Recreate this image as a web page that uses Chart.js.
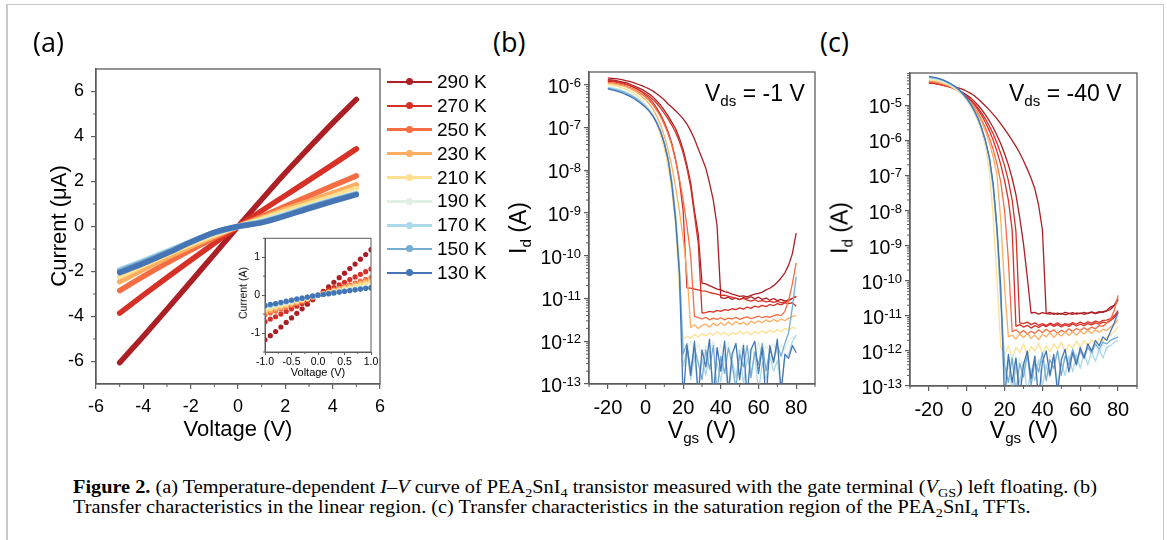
<!DOCTYPE html>
<html>
<head>
<meta charset="utf-8">
<title>Figure 2</title>
<script src="https://cdn.jsdelivr.net/npm/chart.js@4.4.1/dist/chart.umd.min.js"></script>
<style>
  html, body { margin: 0; padding: 0; background: #fff; }
  body { position: relative; width: 1167px; height: 540px; overflow: hidden; font-family: 'Liberation Sans', Arial, sans-serif; color: #000; }
  canvas { position: absolute; }
  .txt { position: absolute; white-space: nowrap; line-height: 1; }
  .rot { transform: translate(-50%, -50%) rotate(-90deg); }
  .ctr { transform: translateX(-50%); }
  .sub { font-size: 0.66em; position: relative; top: 0.33em; }
  .panel { font-family: 'Open Sans', Lato, sans-serif; font-size: 27px; }
  .caption { font-family: 'Liberation Serif', 'Times New Roman', serif; font-size: 18px; transform-origin: 0 0; }
  .caption .cs { font-size: 0.7em; position: relative; top: 0.28em; }
  .line { position: absolute; background: #c9c9c9; }
  #legendA { position: absolute; left: 387px; top: 70px; }
  .item { height: 23.9px; display: flex; align-items: center; font-size: 19px; }
  .swatch { position: relative; width: 45px; height: 2.5px; }
  .swatch i { position: absolute; left: 19px; top: -2.5px; width: 7px; height: 7px; border-radius: 50%; }
</style>
</head>
<body>
<div class="line" style="left:7px;top:4px;width:1157px;height:1px"></div>
<div class="line" style="left:6px;top:4px;width:2px;height:536px"></div>
<div class="line" style="left:1163px;top:4px;width:1px;height:536px"></div>

<canvas id="chartA"></canvas>
<canvas id="chartInset"></canvas>
<canvas id="chartB"></canvas>
<canvas id="chartC"></canvas>

<div class="txt panel" style="left:33px;top:28px">(a)</div>
<div class="txt panel" style="left:493px;top:28px">(b)</div>
<div class="txt panel" style="left:820px;top:28px">(c)</div>

<div class="txt ctr" style="left:238px;top:418px;font-size:22px">Voltage (V)</div>
<div class="txt rot" style="left:59px;top:226px;font-size:22px">Current (μA)</div>
<div class="txt ctr" style="left:318px;top:367px;font-size:11px">Voltage (V)</div>
<div class="txt rot" style="left:243px;top:293px;font-size:10.5px">Current (A)</div>
<div id="legendA"></div>

<div class="txt ctr" style="left:702px;top:419px;font-size:23px">V<span class="sub">gs</span> (V)</div>
<div class="txt rot" style="left:518px;top:228px;font-size:23px">I<span class="sub">d</span> (A)</div>
<div class="txt" style="left:705px;top:82px;font-size:23px">V<span class="sub">ds</span> = -1 V</div>

<div class="txt ctr" style="left:1024px;top:419px;font-size:23px">V<span class="sub">gs</span> (V)</div>
<div class="txt rot" style="left:840px;top:228px;font-size:23px">I<span class="sub">d</span> (A)</div>
<div class="txt" style="left:1009px;top:82px;font-size:23px">V<span class="sub">ds</span> = -40 V</div>

<div id="cap1" class="txt caption" style="left:73px;top:478px"><b>Figure 2.</b> (a) Temperature-dependent <i>I</i>–<i>V</i> curve of PEA<span class="cs">2</span>SnI<span class="cs">4</span> transistor measured with the gate terminal (<i>V</i><span class="cs">GS</span>) left floating. (b)</div>
<div id="cap2" class="txt caption" style="left:73px;top:498px">Transfer characteristics in the linear region. (c) Transfer characteristics in the saturation region of the PEA<span class="cs">2</span>SnI<span class="cs">4</span> TFTs.</div>

<script>
// ---- shared series info
const temps = ['290 K', '270 K', '250 K', '230 K', '210 K', '190 K', '170 K', '150 K', '130 K'];
const tempColors = ['#ac1f24', '#d73027', '#f46d43', '#fdae61', '#fee090', '#e2efe4', '#abd9e9', '#74add1', '#4575b4'];

// ---- panel (a): I-V curves, current in uA
const voltA = [-5, -4, -3, -2, -1, 0, 1, 2, 3, 4, 5];
const ivA290 = [-6.05, -4.88, -3.68, -2.46, -1.23, 0, 1.2, 2.38, 3.5, 4.6, 5.65];
const ivA270 = [-3.85, -3.05, -2.27, -1.5, -0.74, 0, 0.7, 1.38, 2.06, 2.75, 3.45];
const ivA250 = [-2.85, -2.22, -1.62, -1.05, -0.5, 0, 0.44, 0.9, 1.36, 1.81, 2.25];
const ivA230 = [-2.45, -1.9, -1.38, -0.89, -0.42, 0, 0.37, 0.76, 1.12, 1.49, 1.85];
const ivA210 = [-2.22, -1.72, -1.24, -0.79, -0.37, 0, 0.32, 0.67, 1.0, 1.33, 1.68];
const ivA190 = [-1.95, -1.55, -1.12, -0.7, -0.3, 0, 0.24, 0.55, 0.88, 1.2, 1.5];
const ivA170 = [-1.92, -1.52, -1.1, -0.68, -0.28, 0, 0.21, 0.52, 0.86, 1.17, 1.45];
const ivA150 = [-1.98, -1.58, -1.15, -0.69, -0.27, 0, 0.19, 0.49, 0.84, 1.15, 1.44];
const ivA130 = [-2.05, -1.64, -1.19, -0.7, -0.26, 0, 0.17, 0.47, 0.8, 1.12, 1.42];
const ivA = [ivA290, ivA270, ivA250, ivA230, ivA210, ivA190, ivA170, ivA150, ivA130];
const ticksA_x = [-6, -4, -2, 0, 2, 4, 6];
const ticksA_y = [-6, -4, -2, 0, 2, 4, 6];

// ---- inset of (a): low-bias region
const voltIn = [-1.0, -0.9, -0.8, -0.7, -0.6, -0.5, -0.4, -0.3, -0.2, -0.1, 0, 0.1, 0.2, 0.3, 0.4, 0.5, 0.6, 0.7, 0.8, 0.9, 1.0];
const ivIn290 = [-1.18, -1.07, -0.96, -0.84, -0.72, -0.6, -0.48, -0.36, -0.24, -0.12, 0, 0.1, 0.22, 0.34, 0.46, 0.58, 0.7, 0.82, 0.95, 1.07, 1.2];
const ivIn270 = [-0.7, -0.63, -0.57, -0.5, -0.43, -0.36, -0.29, -0.22, -0.15, -0.08, 0, 0.07, 0.14, 0.2, 0.27, 0.34, 0.41, 0.48, 0.55, 0.62, 0.69];
const ivIn250 = [-0.52, -0.47, -0.42, -0.37, -0.32, -0.27, -0.22, -0.17, -0.11, -0.06, 0, 0.05, 0.09, 0.14, 0.18, 0.23, 0.27, 0.32, 0.37, 0.42, 0.46];
const ivIn230 = [-0.44, -0.4, -0.36, -0.32, -0.28, -0.23, -0.19, -0.14, -0.1, -0.05, 0, 0.04, 0.08, 0.12, 0.16, 0.2, 0.23, 0.27, 0.31, 0.35, 0.39];
const ivIn210 = [-0.38, -0.35, -0.31, -0.28, -0.24, -0.2, -0.16, -0.12, -0.08, -0.04, 0, 0.03, 0.07, 0.1, 0.13, 0.17, 0.2, 0.23, 0.27, 0.3, 0.33];
const ivIn190 = [-0.32, -0.29, -0.26, -0.23, -0.2, -0.17, -0.13, -0.1, -0.07, -0.03, 0, 0.03, 0.05, 0.08, 0.1, 0.13, 0.15, 0.18, 0.2, 0.22, 0.24];
const ivIn170 = [-0.29, -0.27, -0.24, -0.21, -0.18, -0.15, -0.12, -0.09, -0.06, -0.03, 0, 0.02, 0.04, 0.07, 0.09, 0.11, 0.13, 0.15, 0.17, 0.19, 0.21];
const ivIn150 = [-0.28, -0.25, -0.23, -0.2, -0.17, -0.14, -0.11, -0.08, -0.05, -0.03, 0, 0.02, 0.04, 0.06, 0.08, 0.1, 0.12, 0.14, 0.16, 0.18, 0.2];
const ivIn130 = [-0.27, -0.24, -0.22, -0.19, -0.16, -0.13, -0.1, -0.08, -0.05, -0.02, 0, 0.02, 0.04, 0.06, 0.08, 0.1, 0.12, 0.14, 0.16, 0.18, 0.19];
const ivIn = [ivIn290, ivIn270, ivIn250, ivIn230, ivIn210, ivIn190, ivIn170, ivIn150, ivIn130];
const ticksIn_x = [-1, -0.5, 0, 0.5, 1];
const ticksIn_y = [-1, 0, 1];

// ---- panels (b) and (c): transfer curves, log10 of Id (A) at each Vgs
const vgs = [-20, -18, -16, -14, -12, -10, -8, -6, -4, -2,
  0, 2, 4, 6, 8, 10, 12, 14, 16, 18,
  20, 22, 24, 26, 28, 30, 32, 34, 36, 38,
  40, 42, 44, 46, 48, 50, 52, 54, 56, 58,
  60, 62, 64, 66, 68, 70, 72, 74, 76, 78,
  80];

// (b) Vds = -1 V
const logB290f = [-5.84, -5.85, -5.86, -5.87, -5.89, -5.91, -5.93, -5.96, -5.99, -6.02,
  -6.06, -6.1, -6.15, -6.21, -6.28, -6.36, -6.45, -6.53, -6.61, -6.7,
  -6.8, -6.92, -7.08, -7.27, -7.5, -7.72, -7.95, -8.3, -8.7, -9.3,
  -10.98, -11.0, -10.97, -11.02, -10.99, -11.03, -10.98, -11.0, -10.96, -11.01,
  -10.97, -11.02, -10.99, -11.04, -11.0, -11.05, -11.02, -11.06, -11.03, -11.0,
  -10.95];
const logB290r = [-5.88, -5.89, -5.9, -5.92, -5.94, -5.96, -5.99, -6.03, -6.07, -6.11,
  -6.16, -6.22, -6.29, -6.38, -6.48, -6.6, -6.73, -6.88, -7.03, -7.25,
  -7.52, -7.88, -8.3, -8.95, -9.5, -10.64, -10.66, -10.7, -10.74, -10.78,
  -10.8, -10.84, -10.86, -10.9, -10.92, -10.95, -10.94, -10.96, -10.93, -10.9,
  -10.88, -10.85, -10.8, -10.76, -10.7, -10.62, -10.52, -10.4, -10.22, -9.95,
  -9.47];
const logB270f = [-5.92, -5.93, -5.94, -5.96, -5.98, -6.0, -6.03, -6.07, -6.11, -6.16,
  -6.21, -6.27, -6.35, -6.44, -6.55, -6.67, -6.8, -6.95, -7.12, -7.33,
  -7.6, -7.95, -8.4, -9.05, -9.7, -11.34, -11.33, -11.3, -11.32, -11.28,
  -11.3, -11.26, -11.28, -11.24, -11.26, -11.22, -11.25, -11.2, -11.23, -11.18,
  -11.2, -11.16, -11.19, -11.14, -11.17, -11.12, -11.15, -11.1, -11.12, -11.1,
  -11.18];
const logB270r = [-5.9, -5.91, -5.92, -5.94, -5.96, -5.99, -6.02, -6.06, -6.11, -6.17,
  -6.24, -6.32, -6.42, -6.55, -6.7, -6.88, -7.1, -7.38, -7.75, -8.25,
  -8.95, -10.75, -10.76, -10.78, -10.8, -10.82, -10.83, -10.86, -10.88, -10.9,
  -10.93, -10.92, -10.95, -10.97, -11.0, -11.02, -11.0, -11.04, -11.06, -11.03,
  -11.07, -11.05, -11.08, -11.06, -11.09, -11.07, -11.1, -11.08, -11.05, -11.0,
  -10.95];
const logB250 = [-5.95, -5.96, -5.97, -5.99, -6.01, -6.04, -6.07, -6.11, -6.16, -6.22,
  -6.29, -6.37, -6.47, -6.6, -6.75, -6.93, -7.15, -7.42, -7.78, -8.2,
  -8.7, -9.3, -10.0, -11.42, -11.45, -11.48, -11.44, -11.5, -11.46, -11.49,
  -11.45, -11.5, -11.46, -11.48, -11.44, -11.49, -11.46, -11.43, -11.47, -11.44,
  -11.41, -11.45, -11.42, -11.44, -11.4, -11.38, -11.4, -11.3, -11.05, -10.65,
  -10.17];
const logB230 = [-5.97, -5.98, -5.99, -6.01, -6.03, -6.06, -6.1, -6.14, -6.2, -6.27,
  -6.35, -6.45, -6.58, -6.74, -6.94, -7.2, -7.52, -7.92, -8.4, -8.95,
  -9.6, -10.4, -11.68, -11.62, -11.7, -11.63, -11.6, -11.67, -11.58, -11.64,
  -11.57, -11.63, -11.55, -11.62, -11.54, -11.6, -11.56, -11.62, -11.53, -11.58,
  -11.52, -11.57, -11.5, -11.55, -11.49, -11.54, -11.48, -11.52, -11.46, -11.42,
  -11.4];
const logB210 = [-6.0, -6.01, -6.03, -6.05, -6.08, -6.11, -6.15, -6.2, -6.27, -6.35,
  -6.45, -6.57, -6.72, -6.92, -7.18, -7.5, -7.92, -8.5, -9.3, -10.8,
  -11.95, -11.88, -11.93, -11.84, -11.9, -11.82, -11.88, -11.8, -11.86, -11.78,
  -11.85, -11.79, -11.87, -11.8, -11.84, -11.76, -11.83, -11.78, -11.85, -11.77,
  -11.82, -11.75, -11.81, -11.74, -11.8, -11.72, -11.78, -11.7, -11.74, -11.68,
  -11.7];
const logB190 = [-6.05, -6.06, -6.08, -6.1, -6.13, -6.16, -6.2, -6.25, -6.31, -6.38,
  -6.46, -6.56, -6.68, -6.84, -7.05, -7.32, -7.68, -8.2, -8.95, -10.1,
  -12.05, -12.2, -11.98, -12.3, -12.05, -12.4, -12.1, -12.25, -12.0, -12.35,
  -12.08, -12.28, -12.02, -12.4, -12.1, -12.3, -12.05, -12.45, -12.12, -12.33,
  -12.0, -12.38, -12.1, -12.25, -12.04, -12.3, -12.08, -12.2, -11.98, -11.9,
  -11.95];
const logB170 = [-6.07, -6.08, -6.1, -6.12, -6.15, -6.19, -6.23, -6.28, -6.34, -6.42,
  -6.5, -6.6, -6.72, -6.88, -7.08, -7.35, -7.72, -8.28, -9.05, -10.3,
  -12.6, -12.2, -12.9, -12.35, -13.2, -12.4, -12.8, -12.25, -13.1, -12.5,
  -12.95, -12.3, -13.3, -12.45, -12.85, -12.2, -13.0, -12.4, -12.75, -12.3,
  -13.2, -12.5, -12.9, -12.35, -12.7, -12.45, -13.1, -12.4, -12.3, -12.0,
  -11.85];
const logB150 = [-6.08, -6.1, -6.12, -6.14, -6.17, -6.21, -6.25, -6.3, -6.36, -6.43,
  -6.51, -6.61, -6.73, -6.89, -7.09, -7.37, -7.74, -8.3, -9.1, -10.35,
  -12.3, -12.05, -12.7, -12.15, -12.5, -12.9, -12.2, -12.65, -12.1, -13.2,
  -12.35, -12.75, -12.15, -12.55, -13.1, -12.3, -12.6, -12.1, -12.85, -12.25,
  -12.55, -12.05, -12.7, -12.2, -12.45, -12.1, -12.35, -12.05, -11.8, -11.2,
  -10.49];
const logB130 = [-6.1, -6.12, -6.14, -6.17, -6.2, -6.24, -6.28, -6.33, -6.39, -6.46,
  -6.53, -6.62, -6.74, -6.9, -7.1, -7.38, -7.75, -8.35, -9.2, -10.4,
  -13.4, -12.1, -12.8, -12.0, -13.3, -12.2, -12.6, -11.95, -13.4, -12.15,
  -12.7, -12.0, -13.2, -12.3, -12.05, -12.9, -12.1, -13.3, -12.2, -12.0,
  -12.75, -12.15, -13.4, -12.1, -12.5, -11.95, -13.2, -12.3, -12.4, -12.1,
  -12.27];

// (c) Vds = -40 V
const logC290f = [-4.36, -4.37, -4.38, -4.4, -4.41, -4.43, -4.45, -4.48, -4.51, -4.55,
  -4.6, -4.66, -4.73, -4.82, -4.92, -5.03, -5.14, -5.26, -5.39, -5.53,
  -5.68, -5.84, -6.0, -6.17, -6.36, -6.58, -6.82, -7.08, -7.38, -7.85,
  -8.55, -10.93, -10.95, -10.92, -10.96, -10.93, -10.97, -10.94, -10.91, -10.95,
  -10.92, -10.96, -10.93, -10.9, -10.94, -10.91, -10.88, -10.85, -10.75, -10.7,
  -10.55];
const logC290r = [-4.36, -4.37, -4.39, -4.41, -4.43, -4.46, -4.49, -4.53, -4.58, -4.64,
  -4.71, -4.79, -4.89, -5.0, -5.13, -5.28, -5.45, -5.64, -5.86, -6.1,
  -6.38, -6.7, -7.08, -7.55, -8.2, -8.95, -9.9, -10.92, -10.9, -10.95,
  -10.91, -10.94, -10.9, -10.96, -10.92, -10.95, -10.9, -10.93, -10.96, -10.92,
  -10.94, -10.9, -10.93, -10.89, -10.92, -10.88, -10.9, -10.86, -10.82, -10.7,
  -10.5];
const logC270f = [-4.36, -4.37, -4.39, -4.41, -4.44, -4.47, -4.5, -4.55, -4.6, -4.67,
  -4.75, -4.84, -4.95, -5.08, -5.23, -5.4, -5.6, -5.82, -6.08, -6.38,
  -6.72, -7.15, -7.7, -8.6, -11.2, -11.22, -11.18, -11.25, -11.2, -11.27,
  -11.22, -11.28, -11.21, -11.26, -11.2, -11.27, -11.22, -11.25, -11.19, -11.24,
  -11.18, -11.23, -11.17, -11.21, -11.15, -11.19, -11.13, -11.12, -11.08, -11.0,
  -10.85];
const logC270r = [-4.34, -4.35, -4.37, -4.39, -4.42, -4.45, -4.49, -4.54, -4.6, -4.67,
  -4.76, -4.86, -4.98, -5.13, -5.3, -5.5, -5.73, -6.0, -6.32, -6.7,
  -7.15, -7.7, -8.55, -11.3, -11.25, -11.32, -11.27, -11.35, -11.28, -11.33,
  -11.26, -11.31, -11.24, -11.3, -11.25, -11.32, -11.26, -11.3, -11.23, -11.29,
  -11.24, -11.28, -11.22, -11.26, -11.2, -11.24, -11.18, -11.2, -11.14, -11.05,
  -10.9];
const logC250 = [-4.33, -4.34, -4.36, -4.38, -4.41, -4.45, -4.49, -4.55, -4.62, -4.7,
  -4.8, -4.92, -5.06, -5.23, -5.43, -5.66, -5.94, -6.27, -6.68, -7.2,
  -8.0, -9.4, -11.45, -11.4, -11.5, -11.42, -11.52, -11.44, -11.5, -11.4,
  -11.48, -11.38, -11.46, -11.4, -11.5, -11.41, -11.47, -11.37, -11.45, -11.36,
  -11.42, -11.34, -11.4, -11.32, -11.37, -11.28, -11.3, -11.2, -11.1, -10.85,
  -10.42];
const logC230 = [-4.3, -4.31, -4.33, -4.36, -4.39, -4.43, -4.48, -4.54, -4.62, -4.71,
  -4.82, -4.95, -5.1, -5.28, -5.5, -5.76, -6.08, -6.48, -7.0, -8.3,
  -10.2, -11.6, -11.55, -11.66, -11.52, -11.62, -11.5, -11.64, -11.55, -11.68,
  -11.52, -11.6, -11.48, -11.62, -11.5, -11.58, -11.46, -11.56, -11.45, -11.55,
  -11.44, -11.52, -11.42, -11.5, -11.4, -11.47, -11.38, -11.42, -11.32, -11.25,
  -11.1];
const logC210 = [-4.27, -4.28, -4.3, -4.33, -4.37, -4.41, -4.47, -4.54, -4.63, -4.74,
  -4.87, -5.03, -5.22, -5.46, -5.78, -6.2, -6.9, -8.2, -10.0, -11.9,
  -12.1, -11.85, -12.2, -11.9, -12.05, -11.8, -12.15, -11.88, -12.0, -11.78,
  -12.1, -11.85, -12.02, -11.8, -11.95, -11.75, -12.05, -11.82, -11.92, -11.72,
  -11.9, -11.7, -11.85, -11.68, -11.8, -11.65, -11.75, -11.6, -11.55, -11.45,
  -11.3];
const logC190 = [-4.24, -4.25, -4.27, -4.3, -4.34, -4.39, -4.45, -4.52, -4.61, -4.72,
  -4.86, -5.02, -5.21, -5.45, -5.75, -6.13, -6.65, -7.5, -8.8, -10.8,
  -12.2, -12.5, -12.1, -12.7, -12.2, -12.45, -12.05, -12.6, -12.15, -12.4,
  -12.0, -12.55, -12.1, -12.35, -11.98, -12.5, -12.05, -12.3, -11.95, -12.4,
  -12.0, -12.25, -11.9, -12.2, -11.85, -12.1, -11.8, -12.0, -11.7, -11.6,
  -11.5];
const logC170 = [-4.22, -4.23, -4.25, -4.28, -4.32, -4.37, -4.43, -4.5, -4.59, -4.7,
  -4.83, -4.99, -5.18, -5.41, -5.7, -6.06, -6.55, -7.35, -8.6, -10.6,
  -12.8, -12.3, -13.1, -12.45, -12.9, -12.3, -13.2, -12.5, -12.85, -12.25,
  -13.0, -12.4, -12.75, -12.2, -12.95, -12.35, -12.7, -12.15, -12.6, -12.1,
  -12.5, -12.05, -12.4, -12.0, -12.3, -11.95, -12.2, -11.9, -11.85, -11.75,
  -11.7];
const logC150 = [-4.2, -4.21, -4.23, -4.26, -4.3, -4.35, -4.41, -4.48, -4.57, -4.68,
  -4.81, -4.97, -5.16, -5.39, -5.68, -6.04, -6.52, -7.3, -8.55, -10.5,
  -12.4, -12.9, -12.2, -13.2, -12.35, -12.75, -12.1, -13.0, -12.3, -12.6,
  -12.05, -12.85, -12.25, -12.5, -12.0, -12.7, -12.15, -12.4, -11.95, -12.3,
  -12.0, -12.2, -11.9, -12.05, -11.8, -11.95, -11.75, -11.8, -11.7, -11.65,
  -11.6];
const logC130 = [-4.18, -4.2, -4.22, -4.25, -4.29, -4.34, -4.4, -4.47, -4.56, -4.67,
  -4.8, -4.96, -5.15, -5.38, -5.67, -6.03, -6.5, -7.25, -8.5, -10.2,
  -13.4, -12.1, -12.9, -12.2, -13.3, -12.4, -12.0, -12.8, -12.15, -13.4,
  -12.3, -12.0, -12.7, -12.1, -13.2, -12.25, -11.95, -12.6, -12.05, -12.4,
  -11.9, -12.2, -11.8, -12.0, -11.7, -11.85, -11.6, -11.7, -11.45, -11.2,
  -10.9];

// forward/reverse sweeps share the colour of their temperature
const sweepsB = [logB290f, logB290r, logB270f, logB270r, logB250, logB230, logB210, logB190, logB170, logB150, logB130];
const sweepsC = [logC290f, logC290r, logC270f, logC270r, logC250, logC230, logC210, logC190, logC170, logC150, logC130];
const sweepTemp = [0, 0, 1, 1, 2, 3, 4, 5, 6, 7, 8];
const ticksTr_x = [-20, 0, 20, 40, 60, 80];
const ticksB_y = [1e-13, 1e-12, 1e-11, 1e-10, 1e-9, 1e-8, 1e-7, 1e-6];
const ticksC_y = [1e-13, 1e-12, 1e-11, 1e-10, 1e-9, 1e-8, 1e-7, 1e-6, 1e-5];

const AXIS = '#5c5c5c';
const SANS = "'Liberation Sans', Arial, sans-serif";

// Put a canvas at box and return the padding / axis sizes giving plot rectangle
function placeCanvas(id, box, plot) {
    var c = document.getElementById(id);
    c.width = box.w;
    c.height = box.h;
    c.style.left = box.x + 'px';
    c.style.top = box.y + 'px';
    c.style.width = box.w + 'px';
    c.style.height = box.h + 'px';
    return {
        padding: { left: 0, top: plot.t - box.y, right: box.x + box.w - plot.r, bottom: 0 },
        yWidth: plot.l - box.x,
        xHeight: box.y + box.h - plot.b
    };
}

// Frame on all four sides, minor ticks, and 10^n labels for log axes
const framePlugin = {
    id: 'frame',
    afterDraw(chart, args, opts) {
        var ctx = chart.ctx, a = chart.chartArea;
        var sx = chart.scales.x, sy = chart.scales.y;
        ctx.save();
        ctx.strokeStyle = AXIS;
        ctx.lineWidth = opts.lineWidth;
        ctx.strokeRect(a.left, a.top, a.right - a.left, a.bottom - a.top);
        ctx.lineWidth = 1;
        ctx.beginPath();
        (opts.minorX || []).forEach(function (v) {
            var p = sx.getPixelForValue(v);
            ctx.moveTo(p, a.bottom);
            ctx.lineTo(p, a.bottom + opts.minorLen);
        });
        (opts.minorY || []).forEach(function (v) {
            var p = sy.getPixelForValue(v);
            ctx.moveTo(a.left, p);
            ctx.lineTo(a.left - opts.minorLen, p);
        });
        ctx.stroke();
        if (opts.powers) {
            ctx.fillStyle = '#000';
            ctx.textAlign = 'right';
            ctx.textBaseline = 'alphabetic';
            sy.ticks.forEach(function (t) {
                var y = sy.getPixelForValue(t.value);
                var exp = String(Math.round(Math.log10(t.value)));
                var right = a.left - opts.labelGap;
                ctx.font = '13px ' + SANS;
                var ew = ctx.measureText(exp).width;
                ctx.fillText(exp, right, y + 2);
                ctx.font = '19.5px ' + SANS;
                ctx.fillText('10', right - ew, y + 8);
            });
        }
        ctx.restore();
    }
};

// log axis minor ticks: 2..9 x 10^n inside the range
function logMinor(lo, hi, max) {
    var out = [];
    for (var n = lo; n <= hi; n++) {
        for (var m = 2; m <= 9; m++) {
            var v = m * Math.pow(10, n);
            if (v <= max) out.push(v);
        }
    }
    return out;
}

function tickList(values) {
    return function (s) { s.ticks = values.map(function (v) { return { value: v }; }); };
}

var baseOptions = {
    responsive: false,
    animation: false,
    devicePixelRatio: 1,
    events: []
};

// ---------------- panel (a)
var fitA = placeCanvas('chartA', { x: 0, y: 40, w: 392, h: 380 }, { l: 96, t: 69, r: 381, b: 384 });
new Chart('chartA', {
    type: 'line',
    data: {
        datasets: temps.map(function (t, i) {
            return {
                label: t,
                data: voltA.map(function (v, j) { return { x: v, y: ivA[i][j] }; }),
                borderColor: tempColors[i],
                borderWidth: 5.5,
                borderCapStyle: 'round',
                pointRadius: 0,
                cubicInterpolationMode: 'monotone',
                order: temps.length - i
            };
        })
    },
    options: Object.assign({}, baseOptions, {
        layout: { padding: fitA.padding },
        plugins: {
            legend: { display: false },
            tooltip: { enabled: false },
            frame: { lineWidth: 1.3, minorLen: 3, minorX: [-5, -3, -1, 1, 3, 5], minorY: [-5, -3, -1, 1, 3, 5] }
        },
        scales: {
            x: {
                type: 'linear', min: -6, max: 6,
                afterFit: function (s) { s.height = fitA.xHeight; },
                afterBuildTicks: tickList(ticksA_x),
                ticks: { color: '#000', font: { family: SANS, size: 18 }, padding: 7, maxRotation: 0, autoSkip: false },
                grid: { drawOnChartArea: false, tickLength: 5, color: AXIS, lineWidth: 1.2 },
                border: { color: AXIS, width: 1.3 }
            },
            y: {
                type: 'linear', min: -7, max: 7,
                afterFit: function (s) { s.width = fitA.yWidth; },
                afterBuildTicks: tickList(ticksA_y),
                ticks: { color: '#000', font: { family: SANS, size: 18 }, padding: 7, autoSkip: false },
                grid: { drawOnChartArea: false, tickLength: 5, color: AXIS, lineWidth: 1.2 },
                border: { color: AXIS, width: 1.3 }
            }
        }
    }),
    plugins: [framePlugin]
});

// ---------------- inset of (a)
var fitIn = placeCanvas('chartInset', { x: 245, y: 230, w: 140, h: 140 }, { l: 265, t: 234, r: 371, b: 352 });
new Chart('chartInset', {
    type: 'scatter',
    data: {
        datasets: temps.map(function (t, i) {
            return {
                label: t,
                data: voltIn.map(function (v, j) { return { x: v, y: ivIn[i][j] }; }),
                backgroundColor: tempColors[i],
                borderWidth: 0,
                pointRadius: 2.6,
                order: temps.length - i
            };
        })
    },
    options: Object.assign({}, baseOptions, {
        layout: { padding: fitIn.padding },
        plugins: {
            legend: { display: false },
            tooltip: { enabled: false },
            frame: { lineWidth: 1, minorLen: 2, minorX: [-0.75, -0.25, 0.25, 0.75], minorY: [-1.5, -0.5, 0.5, 1.5] }
        },
        scales: {
            x: {
                type: 'linear', min: -1, max: 1,
                afterFit: function (s) { s.height = fitIn.xHeight; },
                afterBuildTicks: tickList(ticksIn_x),
                ticks: { color: '#000', font: { family: SANS, size: 10.5 }, padding: 1, maxRotation: 0, autoSkip: false,
                    callback: function (v) { return v.toFixed(1); } },
                grid: { drawOnChartArea: false, tickLength: 3, color: AXIS, lineWidth: 1 },
                border: { color: AXIS, width: 1 }
            },
            y: {
                type: 'linear', min: -1.5, max: 1.5,
                afterFit: function (s) { s.width = fitIn.yWidth; },
                afterBuildTicks: tickList(ticksIn_y),
                ticks: { color: '#000', font: { family: SANS, size: 10.5 }, padding: 2, autoSkip: false },
                grid: { drawOnChartArea: false, tickLength: 3, color: AXIS, lineWidth: 1 },
                border: { color: AXIS, width: 1 }
            }
        }
    }),
    plugins: [framePlugin]
});

// ---------------- panels (b) and (c)
function transferChart(id, fit, sweeps, yMax, yTicks, minorY) {
    return new Chart(id, {
        type: 'line',
        data: {
            datasets: sweeps.map(function (arr, i) {
                return {
                    label: temps[sweepTemp[i]],
                    data: vgs.map(function (v, j) { return { x: v, y: Math.pow(10, arr[j]) }; }),
                    borderColor: tempColors[sweepTemp[i]],
                    borderWidth: 1.3,
                    borderJoinStyle: 'round',
                    pointRadius: 0,
                    tension: 0,
                    order: sweeps.length - i
                };
            })
        },
        options: Object.assign({}, baseOptions, {
            layout: { padding: fit.padding },
            plugins: {
                legend: { display: false },
                tooltip: { enabled: false },
                frame: { lineWidth: 1.3, minorLen: 3, minorX: [-30, -10, 10, 30, 50, 70, 90], minorY: minorY, powers: true, labelGap: 8 }
            },
            scales: {
                x: {
                    type: 'linear', min: -30, max: 90,
                    afterFit: function (s) { s.height = fit.xHeight; },
                    afterBuildTicks: tickList(ticksTr_x),
                    ticks: { color: '#000', font: { family: SANS, size: 20 }, padding: 7, maxRotation: 0, autoSkip: false },
                    grid: { drawOnChartArea: false, tickLength: 5, color: AXIS, lineWidth: 1.2 },
                    border: { color: AXIS, width: 1.3 }
                },
                y: {
                    type: 'logarithmic', min: 1e-13, max: yMax,
                    afterFit: function (s) { s.width = fit.yWidth; },
                    afterBuildTicks: tickList(yTicks),
                    ticks: { display: false },
                    grid: { drawOnChartArea: false, tickLength: 5, color: AXIS, lineWidth: 1.2 },
                    border: { color: AXIS, width: 1.3 }
                }
            }
        }),
        plugins: [framePlugin]
    });
}

var fitB = placeCanvas('chartB', { x: 530, y: 60, w: 290, h: 360 }, { l: 589, t: 72, r: 815, b: 384 });
transferChart('chartB', fitB, sweepsB, 1.98e-6, ticksB_y, logMinor(-13, -7, 1.98e-6));

var fitC = placeCanvas('chartC', { x: 850, y: 60, w: 292, h: 360 }, { l: 910, t: 73, r: 1137, b: 386 });
transferChart('chartC', fitC, sweepsC, 8.3e-5, ticksC_y, logMinor(-13, -5, 8.3e-5));

// ---------------- legend of (a)
var legend = document.getElementById('legendA');
temps.forEach(function (t, i) {
    var item = document.createElement('div');
    item.className = 'item';
    var sw = document.createElement('div');
    sw.className = 'swatch';
    sw.style.background = tempColors[i];
    var dot = document.createElement('i');
    dot.style.background = tempColors[i];
    sw.appendChild(dot);
    var label = document.createElement('span');
    label.style.marginLeft = '5px';
    label.textContent = t;
    item.appendChild(sw);
    item.appendChild(label);
    legend.appendChild(item);
});

// ---------------- fit the caption to the width of the original lines
var cap1 = document.getElementById('cap1');
var cap2 = document.getElementById('cap2');
var k = 1024 / cap1.getBoundingClientRect().width;
cap1.style.transform = 'scaleX(' + k + ')';
cap2.style.transform = 'scaleX(' + k + ')';
</script>
</body>
</html>
